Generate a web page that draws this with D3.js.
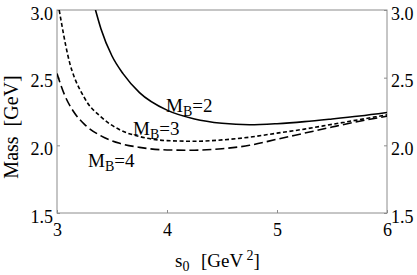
<!DOCTYPE html>
<html>
<head>
<meta charset="utf-8">
<script src="https://cdnjs.cloudflare.com/ajax/libs/d3/7.8.5/d3.min.js"></script>
<style>
  body { margin: 0; background: #fff; }
  .frame { fill: none; stroke: #8c8c8c; stroke-width: 1; }
  .tick line { stroke: #8c8c8c; }
  .curve { fill: none; stroke: #000; }
</style>
</head>
<body>
<script>
// s0 [GeV^2] vs Mass [GeV]
var s2 = [3.35, 3.4, 3.5, 3.6, 3.75, 4.0, 4.25, 4.5, 4.75, 5.0, 5.25, 5.5, 5.75, 6.0];
var m2 = [3.0, 2.86, 2.66, 2.53, 2.39, 2.26, 2.195, 2.163, 2.152, 2.16, 2.175, 2.195, 2.217, 2.243];

var s3 = [3.02, 3.1, 3.25, 3.4, 3.57, 3.75, 4.0, 4.25, 4.5, 4.75, 5.0, 5.25, 5.5, 5.75, 6.0];
var m3 = [3.0, 2.66, 2.35, 2.21, 2.115, 2.065, 2.035, 2.03, 2.04, 2.06, 2.09, 2.12, 2.155, 2.19, 2.225];

var s4 = [3.0, 3.07, 3.15, 3.25, 3.4, 3.57, 3.75, 4.0, 4.25, 4.5, 4.75, 5.0, 5.25, 5.5, 5.75, 6.0];
var m4 = [2.53, 2.37, 2.25, 2.155, 2.07, 2.015, 1.985, 1.966, 1.964, 1.975, 2.0, 2.045, 2.09, 2.135, 2.178, 2.215];

var xTicks = [3, 4, 5, 6];
var yTicks = [1.5, 2.0, 2.5, 3.0];

var W = 417, H = 275;
var pL = 57, pR = 387, pT = 10, pB = 213;
var serif = "Liberation Serif, DejaVu Serif, serif";

var svg = d3.select("body").append("svg")
  .attr("width", W).attr("height", H);

var x = d3.scaleLinear().domain([3, 6]).range([pL, pR]);
var y = d3.scaleLinear().domain([1.5, 3.0]).range([pB, pT]);

svg.append("defs").append("clipPath").attr("id", "clip").append("rect")
  .attr("x", pL).attr("y", pT).attr("width", pR - pL).attr("height", pB - pT);

// axes with inward ticks
function tickAxis(axis, tx, ty) {
  var g = svg.append("g").attr("transform", "translate(" + tx + "," + ty + ")").call(axis);
  g.attr("font-family", serif).attr("font-size", 18);
  g.select(".domain").remove();
  return g;
}

var gl = tickAxis(d3.axisLeft(y).tickValues(yTicks).tickFormat(d3.format(".1f"))
  .tickSizeInner(-3).tickSizeOuter(0).tickPadding(4), pL, 0);
var gr = tickAxis(d3.axisRight(y).tickValues(yTicks).tickFormat(d3.format(".1f"))
  .tickSizeInner(-3).tickSizeOuter(0).tickPadding(4), pR, 0);
var gb = tickAxis(d3.axisBottom(x).tickValues(xTicks).tickFormat(d3.format("d"))
  .tickSizeInner(-3).tickSizeOuter(0).tickPadding(10), 0, pB);
gl.selectAll("text").attr("dy", "0.5em");
gr.selectAll("text").attr("dy", "0.5em");

svg.append("rect").attr("class", "frame")
  .attr("x", pL).attr("y", pT).attr("width", pR - pL).attr("height", pB - pT);

var line = d3.line().curve(d3.curveMonotoneX)
  .x(function(d) { return x(d[0]); })
  .y(function(d) { return y(d[1]); });

var plot = svg.append("g").attr("clip-path", "url(#clip)");
plot.append("path").attr("class", "curve")
  .attr("stroke-width", 1.6)
  .attr("d", line(d3.zip(s2, m2)));
plot.append("path").attr("class", "curve")
  .attr("stroke-width", 1.6).attr("stroke-dasharray", "4,2.5")
  .attr("d", line(d3.zip(s3, m3)));
plot.append("path").attr("class", "curve")
  .attr("stroke-width", 1.6).attr("stroke-dasharray", "9,4")
  .attr("d", line(d3.zip(s4, m4)));

// curve labels
function mbLabel(px, py, n) {
  var t = svg.append("text").attr("x", px).attr("y", py)
    .attr("font-family", serif).attr("font-size", 19);
  t.append("tspan").text("M");
  t.append("tspan").attr("dy", 4).attr("font-size", 14).text("B");
  t.append("tspan").attr("dy", -4).text("=" + n);
}
mbLabel(166, 112, 2);
mbLabel(133, 135, 3);
mbLabel(88, 167, 4);

// axis titles
var xt = svg.append("text").attr("x", 175).attr("y", 267)
  .attr("font-family", serif).attr("font-size", 19);
xt.append("tspan").text("s");
xt.append("tspan").attr("dy", 4).attr("font-size", 14).text("0");
xt.append("tspan").attr("dy", -4).attr("dx", 2).text("\u00a0 [GeV");
xt.append("tspan").attr("dy", -7).attr("font-size", 14).text("\u00a02");
xt.append("tspan").attr("dy", 7).text("]");

svg.append("text")
  .attr("transform", "translate(18,127) rotate(-90)")
  .attr("text-anchor", "middle")
  .attr("font-family", serif).attr("font-size", 20)
  .text("Mass\u00a0\u00a0[GeV]");
</script>
</body>
</html>
